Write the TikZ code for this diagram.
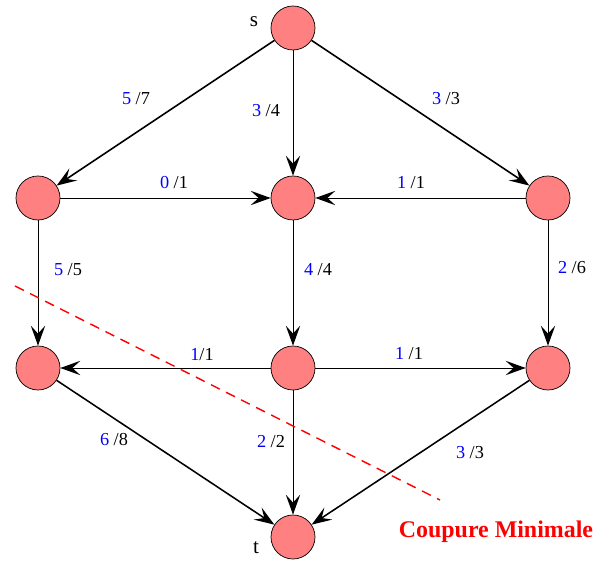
\documentclass[tikz,border=0pt]{standalone}
\usepackage{fontspec}
\setmainfont{Liberation Serif}
\usetikzlibrary{arrows.meta}
\definecolor{vertexred}{RGB}{255,128,128}
\newcommand{\flowlbl}[2]{\textcolor{blue}{#1} /#2}

\begin{document}
\begin{tikzpicture}[
					x=0.025cm, y=-0.025cm,
					vertex/.style={circle, draw=black, line width=0.5pt, fill=vertexred, minimum size=1.1cm, inner sep=0pt},
					arc/.style={-{Stealth[length=5mm, width=3.6mm, inset=2mm]}, line width=0.7pt},
					slantarc/.style={arc, line width=1.1pt},
					flow/.style={font=\fontsize{13}{14}\selectfont, inner sep=1pt},
					tag/.style={font=\fontsize{15}{16}\selectfont, inner sep=1pt}
					]
					\useasboundingbox (0,0) rectangle (594,564);
					% --- vertices ---
					\node[vertex] (s) at (293,28) {};
					\node[vertex] (a) at (38,198) {};
					\node[vertex] (b) at (293,198) {};
					\node[vertex] (c) at (548,198) {};
					\node[vertex] (d) at (38,368) {};
					\node[vertex] (e) at (293,368) {};
					\node[vertex] (f) at (548,368) {};
					\node[vertex] (t) at (293,537) {};
					\node[tag] (slbl) at (254,22) {s};
					\node[tag] (tlbl) at (256,548) {t};
					
					% --- arcs ---
					\draw[slantarc] (s) -- (a);
					\draw[arc] (s) -- (b);
					\draw[slantarc] (s) -- (c);
					\draw[arc] (a) -- (b);
					\draw[arc] (c) -- (b);
					\draw[arc] (a) -- (d);
					\draw[arc] (b) -- (e);
					\draw[arc] (c) -- (f);
					\draw[arc] (e) -- (d);
					\draw[arc] (e) -- (f);
					\draw[slantarc] (d) -- (t);
					\draw[arc] (e) -- (t);
					\draw[slantarc] (f) -- (t);
					
					% --- flow / capacity ---
					\node[flow] (fsa) at (136,99) {\flowlbl{5}{7}};
					\node[flow] (fsb) at (266,111) {\flowlbl{3}{4}};
					\node[flow] (fsc) at (446,99) {\flowlbl{3}{3}};
					\node[flow] (fab) at (174,183) {\flowlbl{0}{1}};
					\node[flow] (fcb) at (411,183) {\flowlbl{1}{1}};
					\node[flow] (fad) at (68,270) {\flowlbl{5}{5}};
					\node[flow] (fbe) at (318,270) {\flowlbl{4}{4}};
					\node[flow] (fcf) at (572,268) {\flowlbl{2}{6}};
					\node[flow] (fed) at (202,355) {\textcolor{blue}{1}/1};
					\node[flow] (fef) at (409,354) {\flowlbl{1}{1}};
					\node[flow] (fet) at (271,442) {\flowlbl{2}{2}};
					\node[flow] (fdt) at (114,440) {\flowlbl{6}{8}};
					\node[flow] (fft) at (470,453) {\flowlbl{3}{3}};
					
					% --- cut ---
					\coordinate (cutA) at (15,286);
					\coordinate (cutB) at (440,500);
					\draw[red, line width=1pt, dash pattern=on 7pt off 5pt] (cutA) -- (cutB);
					\node[text=red, font=\bfseries\fontsize{17}{18}\selectfont, inner sep=1pt] (cutlbl) at (496,532) {Coupure Minimale};
				\end{tikzpicture}
\end{document}
